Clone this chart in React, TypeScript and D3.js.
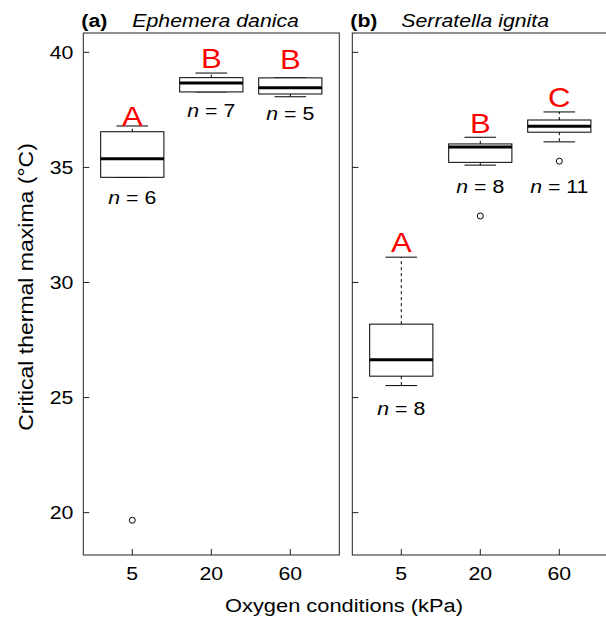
import * as d3 from "d3"

// oxygen treatments (kPa)
const oxygen = ["5", "20", "60"]
const yTicks = [20, 25, 30, 35, 40]

// Ephemera danica box statistics (°C)
const ephemeraLow = [34.57, 38.28, 38.07]
const ephemeraQ1 = [34.57, 38.28, 38.19]
const ephemeraMedian = [35.38, 38.67, 38.46]
const ephemeraQ3 = [36.55, 38.9, 38.89]
const ephemeraHigh = [36.8, 39.1, 38.89]
const ephemeraOutliers = [[19.67], [], []]
const ephemeraN = [6, 7, 5]
const ephemeraLetters = ["A", "B", "B"]
const ephemeraLetterAt = [36.8, 39.32, 39.28]
const ephemeraNAt = [33.41, 37.2, 37.06]

// Serratella ignita box statistics (°C)
const serratellaLow = [25.52, 35.1, 36.11]
const serratellaQ1 = [25.93, 35.22, 36.53]
const serratellaMedian = [26.64, 35.89, 36.79]
const serratellaQ3 = [28.19, 36.02, 37.06]
const serratellaHigh = [31.1, 36.31, 37.41]
const serratellaOutliers = [[], [32.89], [35.27]]
const serratellaN = [8, 8, 11]
const serratellaLetters = ["A", "B", "C"]
const serratellaLetterAt = [31.34, 36.48, 37.63]
const serratellaNAt = [24.25, 33.9, 33.88]

const W = 606
const H = 618
const top = 33
const bottom = 555
const font = "'Liberation Sans', Arial, Helvetica, sans-serif"
const stretch = 1.15

const y = d3.scaleLinear().domain([18.16, 40.84]).range([bottom, top])

interface PanelProps {
  left: number
  right: number
  tag: string
  species: string
  low: number[]
  q1: number[]
  med: number[]
  q3: number[]
  high: number[]
  outliers: number[][]
  n: number[]
  letters: string[]
  letterAt: number[]
  nAt: number[]
  yLabels: boolean
}

function Label({ x, y, size, anchor = "middle", fill = "#000", weight = "normal", children }: any) {
  return (
    <text
      transform={`translate(${x},${y}) scale(${stretch},1)`}
      fontSize={size}
      textAnchor={anchor}
      fill={fill}
      fontWeight={weight}
      fontFamily={font}
    >
      {children}
    </text>
  )
}

function Panel(p: PanelProps) {
  const x = d3.scaleLinear().domain([0.38, 3.62]).range([p.left, p.right])
  const bw = x(0.8) - x(0) // boxwex 0.8
  const cap = bw / 2
  return (
    <g>
      <rect x={p.left} y={top} width={p.right - p.left} height={bottom - top} fill="none" stroke="#222" strokeWidth={1} />
      {yTicks.map((t) => (
        <g key={t}>
          <line x1={p.left} x2={p.left + 6} y1={y(t)} y2={y(t)} stroke="#222" />
          {p.yLabels && (
            <Label x={p.left - 10} y={y(t) + 6.5} size={18.5} anchor="end">
              {t}
            </Label>
          )}
        </g>
      ))}
      {oxygen.map((o, i) => {
        const cx = x(i + 1)
        return (
          <g key={o}>
            <line x1={cx} x2={cx} y1={bottom} y2={bottom - 6} stroke="#222" />
            <Label x={cx} y={580} size={18.5}>
              {o}
            </Label>
            {/* whiskers */}
            <line x1={cx} x2={cx} y1={y(p.q3[i])} y2={y(p.high[i])} stroke="#000" strokeDasharray="3,3" />
            <line x1={cx} x2={cx} y1={y(p.q1[i])} y2={y(p.low[i])} stroke="#000" strokeDasharray="3,3" />
            <line x1={cx - cap / 2} x2={cx + cap / 2} y1={y(p.high[i])} y2={y(p.high[i])} stroke="#000" />
            <line x1={cx - cap / 2} x2={cx + cap / 2} y1={y(p.low[i])} y2={y(p.low[i])} stroke="#000" />
            <rect
              x={cx - bw / 2}
              y={y(p.q3[i])}
              width={bw}
              height={y(p.q1[i]) - y(p.q3[i])}
              fill="#fff"
              stroke="#000"
              strokeWidth={1}
            />
            <line x1={cx - bw / 2} x2={cx + bw / 2} y1={y(p.med[i])} y2={y(p.med[i])} stroke="#000" strokeWidth={3} />
            {p.outliers[i].map((v, j) => (
              <circle key={j} cx={cx} cy={y(v)} r={3} fill="none" stroke="#000" strokeWidth={1} />
            ))}
            <Label x={cx} y={y(p.letterAt[i])} size={27} fill="#ff0000">
              {p.letters[i]}
            </Label>
            <Label x={cx} y={y(p.nAt[i])} size={18.5}>
              <tspan fontStyle="italic">n</tspan>
              <tspan> = {p.n[i]}</tspan>
            </Label>
          </g>
        )
      })}
      <Label x={p.left - 2} y={26.5} size={18.5} anchor="start" weight="bold">
        {p.tag}
      </Label>
      <text
        transform={`translate(${p.left + 49},26.5) scale(${stretch},1)`}
        fontSize={18.5}
        fontStyle="italic"
        fontFamily={font}
      >
        {p.species}
      </text>
    </g>
  )
}

export default function App() {
  return (
    <svg
      width={W}
      height={H}
      style={{ position: "absolute", left: 0, top: 0, display: "block", background: "#fff" }}
    >
      <Panel
        left={83.3}
        right={339.3}
        tag="(a)"
        species="Ephemera danica"
        low={ephemeraLow}
        q1={ephemeraQ1}
        med={ephemeraMedian}
        q3={ephemeraQ3}
        high={ephemeraHigh}
        outliers={ephemeraOutliers}
        n={ephemeraN}
        letters={ephemeraLetters}
        letterAt={ephemeraLetterAt}
        nAt={ephemeraNAt}
        yLabels={true}
      />
      <Panel
        left={352.3}
        right={608.3}
        tag="(b)"
        species="Serratella ignita"
        low={serratellaLow}
        q1={serratellaQ1}
        med={serratellaMedian}
        q3={serratellaQ3}
        high={serratellaHigh}
        outliers={serratellaOutliers}
        n={serratellaN}
        letters={serratellaLetters}
        letterAt={serratellaLetterAt}
        nAt={serratellaNAt}
        yLabels={false}
      />
      <Label x={344} y={612} size={19}>
        Oxygen conditions (kPa)
      </Label>
      <text
        transform={`translate(33,287) rotate(-90) scale(${stretch},1)`}
        fontSize={20}
        textAnchor="middle"
        fontFamily={font}
      >
        Critical thermal maxima (°C)
      </text>
    </svg>
  )
}
